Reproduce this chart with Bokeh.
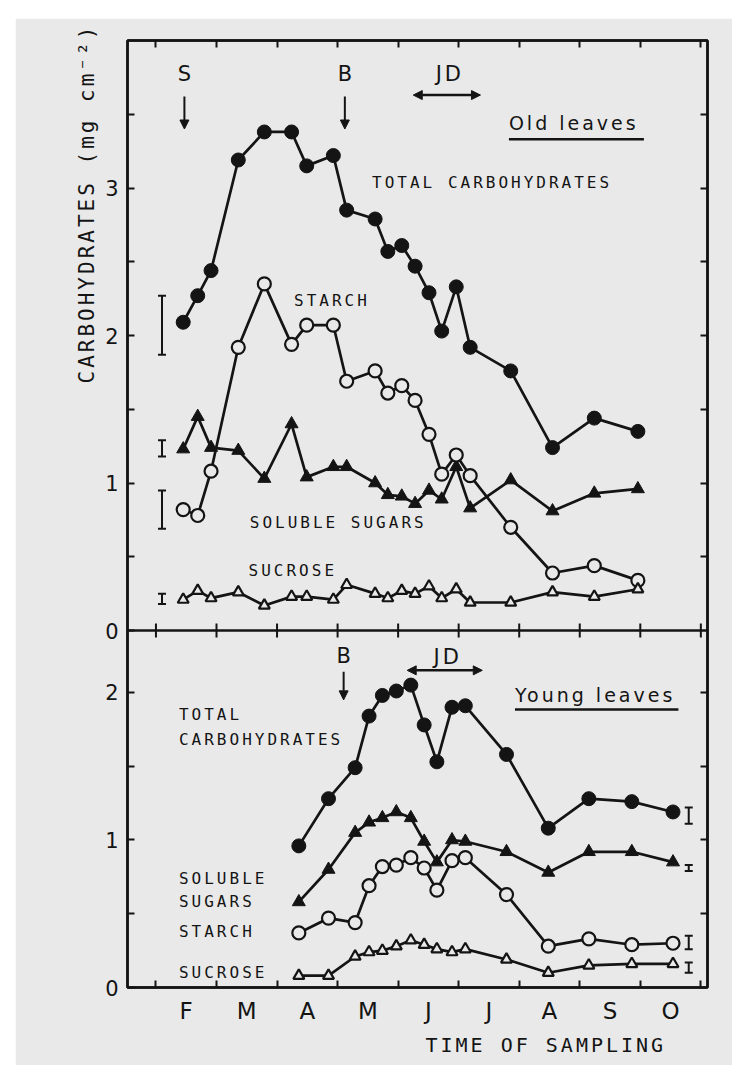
from bokeh.embed import file_html
from bokeh.layouts import column, row
from bokeh.models import (Arrow, ColumnDataSource, FixedTicker, InlineStyleSheet, Label,
                          LinearAxis, NormalHead, Range1d, Spacer, Span, Title)
from bokeh.plotting import figure
from bokeh.resources import INLINE
from bokeh.transform import dodge

# ---------------------------------------------------------------- data
# Time axis in months from 1 January: 1.0 = 1 February ... 10.0 = 1 November
month_letters = ["F", "M", "A", "M", "J", "J", "A", "S", "O"]
month_starts = [1, 2, 3, 4, 5, 6, 7, 8, 9, 10]

# Old leaves, carbohydrates (mg cm-2)
old_dates = [1.45, 1.69, 1.91, 2.36, 2.79, 3.24, 3.49, 3.93, 4.15, 4.62, 4.83,
             5.06, 5.28, 5.51, 5.72, 5.96, 6.19, 6.86, 7.55, 8.24, 8.96]
old_total = [2.09, 2.27, 2.44, 3.19, 3.38, 3.38, 3.15, 3.22, 2.85, 2.79, 2.57,
             2.61, 2.47, 2.29, 2.03, 2.33, 1.92, 1.76, 1.24, 1.44, 1.35]
old_sugars = [1.23, 1.45, 1.24, 1.22, 1.03, 1.40, 1.04, 1.11, 1.11, 1.00, 0.92,
              0.91, 0.86, 0.95, 0.89, 1.11, 0.83, 1.02, 0.81, 0.93, 0.96]
old_starch = [0.82, 0.78, 1.08, 1.92, 2.35, 1.94, 2.07, 2.07, 1.69, 1.76, 1.61,
              1.66, 1.56, 1.33, 1.06, 1.19, 1.05, 0.70, 0.39, 0.44, 0.34]
old_sucrose = [0.21, 0.27, 0.22, 0.26, 0.17, 0.23, 0.23, 0.21, 0.31, 0.25, 0.22,
               0.27, 0.25, 0.30, 0.22, 0.28, 0.19, 0.19, 0.26, 0.23, 0.28]

# Young leaves, carbohydrates (mg cm-2)
young_dates = [3.36, 3.85, 4.29, 4.52, 4.74, 4.97, 5.21, 5.43, 5.64, 5.89, 6.11,
               6.79, 7.48, 8.15, 8.86, 9.54]
young_total = [0.96, 1.28, 1.49, 1.84, 1.98, 2.01, 2.05, 1.78, 1.53, 1.90, 1.91,
               1.58, 1.08, 1.28, 1.26, 1.19]
young_sugars = [0.58, 0.80, 1.05, 1.12, 1.15, 1.19, 1.15, 0.99, 0.85, 1.00, 0.99,
                0.92, 0.78, 0.92, 0.92, 0.85]
young_starch = [0.37, 0.47, 0.44, 0.69, 0.82, 0.83, 0.88, 0.81, 0.66, 0.86, 0.88,
                0.63, 0.28, 0.33, 0.29, 0.30]
young_sucrose = [0.08, 0.08, 0.21, 0.24, 0.25, 0.28, 0.32, 0.29, 0.26, 0.24, 0.26,
                 0.19, 0.10, 0.15, 0.16, 0.16]

# Least significant difference bars (total, sugars, starch, sucrose)
old_lsd_date = [1.10, 1.10, 1.10, 1.10]
old_lsd_low = [1.87, 1.18, 0.69, 0.18]
old_lsd_high = [2.27, 1.29, 0.95, 0.25]
young_lsd_date = [9.80, 9.80, 9.80, 9.80]
young_lsd_low = [1.11, 0.79, 0.26, 0.10]
young_lsd_high = [1.22, 0.83, 0.35, 0.17]

# Marked events
old_event_names = ["S", "B"]
old_event_dates = [1.47, 4.12]
young_event_names = ["B"]
young_event_dates = [4.10]
old_jd = [5.25, 6.36]
young_jd = [5.15, 6.39]

# ---------------------------------------------------------------- layout
BG = "#e9e9e9"
INK = "#141414"
SHIFT = 2.42      # height of the young-leaves panel; old leaves are stacked above it
OLD_TOP = 4.0
LETTER = "DejaVu Sans Mono"
DIGIT = "DejaVu Sans"

p = figure(width=717, height=1047,
           x_range=Range1d(0.53, 10.11), y_range=Range1d(0, SHIFT + OLD_TOP),
           output_backend="svg", toolbar_location=None,
           x_axis_location=None, y_axis_location=None,
           min_border_left=112, min_border_right=25,
           min_border_top=22, min_border_bottom=78,
           background_fill_color=BG, border_fill_color=BG,
           outline_line_color=INK, outline_line_width=2.5)
p.grid.visible = False
p.stylesheets = [InlineStyleSheet(css=":host { letter-spacing: 3px; }")]


def style_axis(ax):
    ax.axis_line_color = INK
    ax.axis_line_width = 2.5
    for kind in ("major", "minor"):
        setattr(ax, f"{kind}_tick_line_color", INK)
        setattr(ax, f"{kind}_tick_line_width", 2)
        setattr(ax, f"{kind}_tick_in", 7)
        setattr(ax, f"{kind}_tick_out", 0)
    ax.major_label_text_color = INK
    return ax


# time axis: month boundaries as ticks, month letters centred between them
month_mids = [m + 0.5 for m in month_starts[:-1]]
xb = style_axis(LinearAxis(ticker=FixedTicker(ticks=month_mids, minor_ticks=month_starts)))
xb.major_tick_in = 0
xb.major_label_overrides = {m: t for m, t in zip(month_mids, month_letters)}
xb.major_label_text_font = DIGIT
xb.major_label_text_font_size = "23px"
xb.major_label_standoff = 10
p.add_layout(xb, "below")
p.add_layout(Title(text="TIME OF SAMPLING", align="left", offset=298, standoff=8,
                   text_font=LETTER, text_font_size="20px", text_font_style="normal",
                   text_color=INK), "below")
p.add_layout(style_axis(LinearAxis(ticker=FixedTicker(ticks=[], minor_ticks=month_starts))), "above")

# value axes for both panels
young_ticks = [0, 1, 2]
old_ticks = [0, 1, 2, 3]
left_ticks = young_ticks + [t + SHIFT for t in old_ticks]
left_minor = [0.5, 1.5] + [t + 0.5 + SHIFT for t in old_ticks]
yl = style_axis(LinearAxis(ticker=FixedTicker(ticks=left_ticks, minor_ticks=left_minor)))
overrides = {t: str(t) for t in young_ticks}
overrides.update({t + SHIFT: str(t) for t in old_ticks})
yl.major_label_overrides = overrides
yl.major_label_text_font = DIGIT
yl.major_label_text_font_size = "21px"
yl.major_label_standoff = 9
p.add_layout(yl, "left")
p.add_layout(Title(text="CARBOHYDRATES (mg cm\u207b\u00b2)", align="left", offset=604, standoff=8,
                   text_font=LETTER, text_font_size="21px", text_font_style="normal",
                   text_color=INK), "left")

right_minor = [0.5, 1, 1.5, 2] + [SHIFT + 0.5 * k for k in range(1, 8)]
p.add_layout(style_axis(LinearAxis(ticker=FixedTicker(ticks=[], minor_ticks=right_minor))), "right")

# divider between the panels, with ticks crossing it
p.add_layout(Span(location=SHIFT, dimension="width", line_color=INK, line_width=2.5))
tick_h = 7 / 147.5
p.segment(x0=month_starts, x1=month_starts, y0=[SHIFT - tick_h] * 10, y1=[SHIFT + tick_h] * 10,
          line_color=INK, line_width=2)

# ---------------------------------------------------------------- series
old_src = ColumnDataSource(dict(date=old_dates, total=old_total, sugars=old_sugars,
                                starch=old_starch, sucrose=old_sucrose))
young_src = ColumnDataSource(dict(date=young_dates, total=young_total, sugars=young_sugars,
                                  starch=young_starch, sucrose=young_sucrose))

styles = [("total", "circle", 14, True),
          ("sugars", "triangle", 13, True),
          ("starch", "circle", 13, False),
          ("sucrose", "triangle", 11, False)]

for src, shift in ((old_src, SHIFT), (young_src, 0)):
    for col, marker, size, filled in styles:
        y = dodge(col, shift) if shift else col
        p.line("date", y, source=src, line_color=INK, line_width=2.7)
        p.scatter("date", y, source=src, marker=marker, size=size,
                  line_color=INK, line_width=1 if filled else 2.2,
                  fill_color=INK if filled else BG)

# LSD bars
for d, lo, hi, shift in ((old_lsd_date, old_lsd_low, old_lsd_high, SHIFT),
                         (young_lsd_date, young_lsd_low, young_lsd_high, 0)):
    s = ColumnDataSource(dict(date=d, lo=lo, hi=hi))
    ylo = dodge("lo", shift) if shift else "lo"
    yhi = dodge("hi", shift) if shift else "hi"
    p.segment(x0="date", x1="date", y0=ylo, y1=yhi, source=s, line_color=INK, line_width=2)
    for yy in (ylo, yhi):
        p.scatter("date", yy, source=s, marker="dash", size=8, line_color=INK, line_width=2)


# ---------------------------------------------------------------- annotations
def text(x, y, s, size, font=LETTER, align="left", **kw):
    p.add_layout(Label(x=x, y=y, text=s, text_font=font, text_font_size=size,
                       text_align=align, text_baseline="middle", text_color=INK, **kw))


def event(name, date, label_y, top, bottom):
    text(date, label_y, name, "21px", font=DIGIT, align="center")
    p.add_layout(Arrow(x_start=date, x_end=date, y_start=top, y_end=bottom,
                       line_color=INK, line_width=2,
                       end=NormalHead(size=9, fill_color=INK, line_color=INK)))


def jd(span, label_y, arrow_y):
    text(sum(span) / 2, label_y, "JD", "21px", font=DIGIT, align="center")
    p.add_layout(Arrow(x_start=span[0], x_end=span[1], y_start=arrow_y, y_end=arrow_y,
                       line_color=INK, line_width=2.5,
                       start=NormalHead(size=9, fill_color=INK, line_color=INK),
                       end=NormalHead(size=9, fill_color=INK, line_color=INK)))


for name, date in zip(old_event_names, old_event_dates):
    event(name, date, SHIFT + 3.77, SHIFT + 3.62, SHIFT + 3.40)
jd(old_jd, SHIFT + 3.77, SHIFT + 3.63)
for name, date in zip(young_event_names, young_event_dates):
    event(name, date, 2.25, 2.14, 1.95)
jd(young_jd, 2.24, 2.15)

# panel titles, underlined
text(6.83, SHIFT + 3.44, "Old leaves", "19px", font=DIGIT)
p.segment(x0=[6.83], x1=[9.06], y0=[SHIFT + 3.33], y1=[SHIFT + 3.33], line_color=INK, line_width=2.5)
text(6.93, 1.98, "Young leaves", "19px", font=DIGIT)
p.segment(x0=[6.93], x1=[9.63], y0=[1.885], y1=[1.885], line_color=INK, line_width=2.5)

# series names, old leaves
text(4.57, SHIFT + 3.04, "TOTAL CARBOHYDRATES", "16px")
text(3.28, SHIFT + 2.24, "STARCH", "16px")
text(2.55, SHIFT + 0.73, "SOLUBLE SUGARS", "16px")
text(2.53, SHIFT + 0.41, "SUCROSE", "16px")
# series names, young leaves
text(1.38, 1.85, "TOTAL", "16px")
text(1.38, 1.68, "CARBOHYDRATES", "16px")
text(1.38, 0.74, "SOLUBLE", "16px")
text(1.38, 0.58, "SUGARS", "16px")
text(1.38, 0.38, "STARCH", "16px")
text(1.38, 0.10, "SUCROSE", "16px")

layout = column(Spacer(width=732, height=18),
                row(Spacer(width=15, height=1047), p))
open("out.html", "w").write(file_html(layout, INLINE))
